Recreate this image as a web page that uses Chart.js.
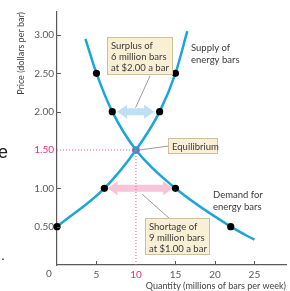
<!DOCTYPE html>
<html>
<head>
<meta charset="utf-8">
<script src="https://cdn.jsdelivr.net/npm/chart.js@4"></script>
<style>
  html, body { margin: 0; padding: 0; background: #fff; }
  #wrap { width: 290px; height: 291px; }
</style>
</head>
<body>
<div id="wrap"><canvas id="chart" width="290" height="291"></canvas></div>
<script>
// Supply and demand curves (quantity in millions of bars, price in dollars)
const supplyQty = [0, 6, 10, 13, 15, 16.5];
const supplyPrice = [0.5, 1.0, 1.5, 2.0, 2.5, 3.05];
const supplyDots = [true, true, false, true, true, false];

const demandQty = [3.6, 5, 7, 10, 15, 22, 25];
const demandPrice = [2.95, 2.5, 2.0, 1.5, 1.0, 0.5, 0.33];
const demandDots = [false, true, true, false, true, true, false];

const eqQty = 10;
const eqPrice = 1.5;

// Surplus / shortage arrows: [from qty, to qty] at a price
const surplusRange = [7.6, 12.3];
const surplusPrice = 2.0;
const shortageRange = [6.4, 14.7];
const shortagePrice = 1.0;

const yTicks = [0.5, 1.0, 1.5, 2.0, 2.5, 3.0];
const xTicks = [5, 10, 15, 20, 25];

const blue = '#1ba6d8';
const pink = '#e0307f';
const gray = '#5a5a5a';

function pts(xs, ys) {
    return xs.map((x, i) => ({ x: x, y: ys[i] }));
}

function drawArrow(ctx, x1, x2, y, color) {
    const head = 10, half = 7, shaft = 3.5;
    ctx.save();
    ctx.fillStyle = color;
    ctx.beginPath();
    ctx.moveTo(x1, y);
    ctx.lineTo(x1 + head, y - half);
    ctx.lineTo(x1 + head, y - shaft);
    ctx.lineTo(x2 - head, y - shaft);
    ctx.lineTo(x2 - head, y - half);
    ctx.lineTo(x2, y);
    ctx.lineTo(x2 - head, y + half);
    ctx.lineTo(x2 - head, y + shaft);
    ctx.lineTo(x1 + head, y + shaft);
    ctx.lineTo(x1 + head, y + half);
    ctx.closePath();
    ctx.fill();
    ctx.restore();
}

function drawBox(ctx, x, y, w, h, lines) {
    ctx.save();
    ctx.fillStyle = '#f9efd5';
    ctx.strokeStyle = '#cfc19a';
    ctx.lineWidth = 1;
    ctx.fillRect(x, y, w, h);
    ctx.strokeRect(x + 0.5, y + 0.5, w - 1, h - 1);
    ctx.fillStyle = '#3a3a3a';
    ctx.font = '9.5px Lato';
    ctx.textBaseline = 'middle';
    ctx.textAlign = 'left';
    lines.forEach((t, i) => ctx.fillText(t, x + 4, y + 9 + i * 11));
    ctx.restore();
}

function drawLeader(ctx, x1, y1, x2, y2) {
    ctx.save();
    ctx.strokeStyle = '#9a9a9a';
    ctx.lineWidth = 1;
    ctx.beginPath();
    ctx.moveTo(x1, y1);
    ctx.lineTo(x2, y2);
    ctx.stroke();
    ctx.restore();
}

const decorations = {
    id: 'decorations',
    beforeDatasetsDraw(chart) {
        const ctx = chart.ctx;
        const xs = chart.scales.x, ys = chart.scales.y;
        drawArrow(ctx, xs.getPixelForValue(surplusRange[0]), xs.getPixelForValue(surplusRange[1]),
            ys.getPixelForValue(surplusPrice), '#bfe0f3');
        drawArrow(ctx, xs.getPixelForValue(shortageRange[0]), xs.getPixelForValue(shortageRange[1]),
            ys.getPixelForValue(shortagePrice), '#f8c4d8');
    },
    afterDatasetsDraw(chart) {
        const ctx = chart.ctx;
        const xs = chart.scales.x, ys = chart.scales.y;
        const left = xs.left, bottom = ys.bottom;

        // inward tick marks
        ctx.save();
        ctx.strokeStyle = gray;
        ctx.lineWidth = 1;
        ctx.beginPath();
        yTicks.forEach(v => {
            if (v === eqPrice) return;
            const y = Math.round(ys.getPixelForValue(v)) + 0.5;
            ctx.moveTo(left, y);
            ctx.lineTo(left + 4, y);
        });
        xTicks.forEach(v => {
            if (v === eqQty) return;
            const x = Math.round(xs.getPixelForValue(v)) + 0.5;
            ctx.moveTo(x, bottom);
            ctx.lineTo(x, bottom - 4);
        });
        ctx.stroke();
        ctx.restore();

        // origin label
        ctx.save();
        ctx.fillStyle = gray;
        ctx.font = '10px Lato';
        ctx.textAlign = 'center';
        ctx.textBaseline = 'top';
        ctx.fillText('0', xs.getPixelForValue(0) - 8, bottom + 4);
        ctx.restore();

        // leader lines
        const sMid = xs.getPixelForValue((surplusRange[0] + surplusRange[1]) / 2);
        drawLeader(ctx, 150, 76, sMid, ys.getPixelForValue(surplusPrice) - 4);
        const hMid = xs.getPixelForValue((shortageRange[0] + shortageRange[1]) / 2);
        drawLeader(ctx, hMid + 2, ys.getPixelForValue(shortagePrice) + 6, 170, 219);
        drawLeader(ctx, xs.getPixelForValue(eqQty) + 3, ys.getPixelForValue(eqPrice), 169, 146);

        // annotation boxes
        drawBox(ctx, 107, 37, 66, 38, ['Surplus of', '6 million bars', 'at $2.00 a bar']);
        drawBox(ctx, 168, 138, 50, 16, ['Equilibrium']);
        drawBox(ctx, 145, 218, 65, 37, ['Shortage of', '9 million bars', 'at $1.00 a bar']);

        // curve labels
        ctx.save();
        ctx.fillStyle = '#3a3a3a';
        ctx.font = '9.5px Lato';
        ctx.textBaseline = 'middle';
        ctx.fillText('Supply of', 191, 48);
        ctx.fillText('energy bars', 191, 60);
        ctx.fillText('Demand for', 213, 195);
        ctx.fillText('energy bars', 213, 207);
        ctx.restore();

        // stray text from the page edge
        ctx.save();
        ctx.fillStyle = '#222';
        ctx.font = '18px "Liberation Sans"';
        ctx.textBaseline = 'alphabetic';
        ctx.fillText('e', -2, 158);
        ctx.font = '14px "Liberation Sans"';
        ctx.fillText('.', 1, 260);
        ctx.restore();
    }
};

new Chart(document.getElementById('chart'), {
    type: 'line',
    data: {
        datasets: [
            {
                data: [{ x: 0, y: eqPrice }, { x: eqQty, y: eqPrice }],
                borderColor: '#e85a9a',
                borderWidth: 1,
                borderDash: [1, 2],
                pointRadius: 0,
                clip: false
            },
            {
                data: [{ x: eqQty, y: eqPrice }, { x: eqQty, y: 0 }],
                borderColor: '#e85a9a',
                borderWidth: 1,
                borderDash: [1, 2],
                pointRadius: 0,
                clip: false
            },
            {
                data: pts(supplyQty, supplyPrice),
                borderColor: blue,
                borderWidth: 2.5,
                cubicInterpolationMode: 'monotone',
                pointRadius: supplyDots.map(d => d ? 3.6 : 0),
                pointBackgroundColor: '#000',
                pointBorderWidth: 0,
                clip: false
            },
            {
                data: pts(demandQty, demandPrice),
                borderColor: blue,
                borderWidth: 2.5,
                cubicInterpolationMode: 'monotone',
                pointRadius: demandDots.map(d => d ? 3.6 : 0),
                pointBackgroundColor: '#000',
                pointBorderWidth: 0,
                clip: false
            },
            {
                data: [{ x: eqQty, y: eqPrice }],
                showLine: false,
                pointRadius: 3.8,
                pointBackgroundColor: pink,
                pointBorderWidth: 0,
                clip: false
            }
        ]
    },
    options: {
        responsive: false,
        animation: false,
        layout: { padding: { top: 12, right: 0, left: 0, bottom: 0 } },
        plugins: { legend: { display: false }, tooltip: { enabled: false } },
        scales: {
            x: {
                type: 'linear',
                min: 0,
                max: 29,
                afterBuildTicks: s => { s.ticks = xTicks.map(v => ({ value: v })); },
                afterFit: s => { s.height = 26; },
                grid: { display: false, drawTicks: false },
                border: { display: true, color: gray, width: 1.2 },
                ticks: {
                    padding: 4,
                    font: { family: 'Lato', size: 10 },
                    color: c => c.tick && c.tick.value === eqQty ? pink : gray
                },
                title: {
                    display: true,
                    text: 'Quantity (millions of bars per week)',
                    align: 'end',
                    color: '#444',
                    font: { family: 'Lato', size: 9 },
                    padding: 0
                }
            },
            y: {
                type: 'linear',
                min: 0,
                max: 3.3,
                afterBuildTicks: s => { s.ticks = yTicks.map(v => ({ value: v })); },
                afterFit: s => { s.width = 57; },
                grid: { display: false, drawTicks: false },
                border: { display: true, color: gray, width: 1.2 },
                ticks: {
                    padding: 3,
                    font: { family: 'Lato', size: 10 },
                    color: c => c.tick && c.tick.value === eqPrice ? pink : gray,
                    callback: v => v.toFixed(2)
                },
                title: {
                    display: true,
                    text: 'Price (dollars per bar)',
                    align: 'end',
                    color: '#444',
                    font: { family: 'Lato', size: 9 },
                    padding: 16
                }
            }
        }
    },
    plugins: [decorations]
});
</script>
</body>
</html>
